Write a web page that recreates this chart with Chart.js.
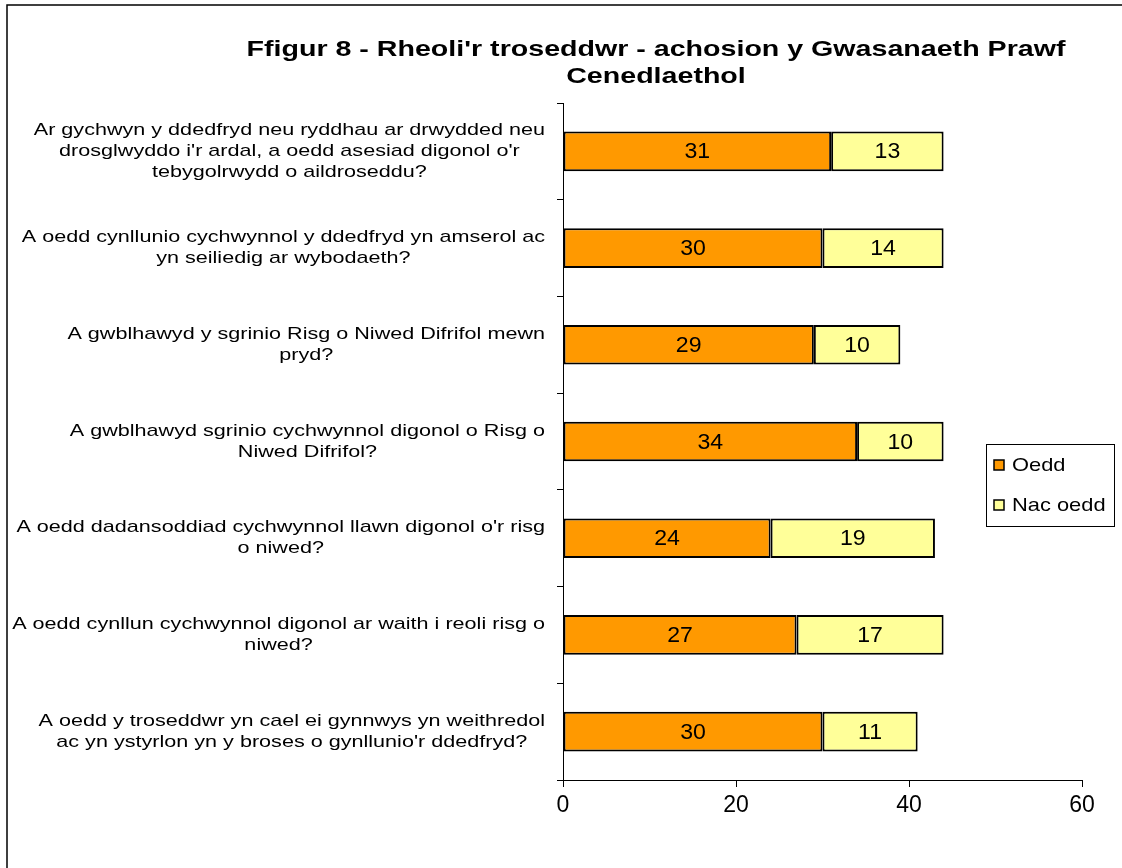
<!DOCTYPE html>
<html>
<head>
<meta charset="utf-8">
<script src="https://cdn.jsdelivr.net/npm/chart.js@4"></script>
<style>
    html, body { margin: 0; padding: 0; background: #fff; }
    #wrap { width: 1122px; height: 868px; position: relative; }
</style>
</head>
<body>
<div id="wrap"><canvas id="barChart"></canvas></div>
<script>
    // Data
    const categories = [
        ["Ar gychwyn y ddedfryd neu ryddhau ar drwydded neu", "drosglwyddo i'r ardal, a oedd asesiad digonol o'r", "tebygolrwydd o aildroseddu?"],
        ["A oedd cynllunio cychwynnol y ddedfryd yn amserol ac", "yn seiliedig ar wybodaeth?"],
        ["A gwblhawyd y sgrinio Risg o Niwed Difrifol mewn", "pryd?"],
        ["A gwblhawyd sgrinio cychwynnol digonol o Risg o", "Niwed Difrifol?"],
        ["A oedd dadansoddiad cychwynnol llawn digonol o'r risg", "o niwed?"],
        ["A oedd cynllun cychwynnol digonol ar waith i reoli risg o", "niwed?"],
        ["A oedd y troseddwr yn cael ei gynnwys yn weithredol", "ac yn ystyrlon yn y broses o gynllunio'r ddedfryd?"]
    ];
    const oedd = [31, 30, 29, 34, 24, 27, 30];
    const nacOedd = [13, 14, 10, 10, 19, 17, 11];
    const seriesNames = ['Oedd', 'Nac oedd'];
    const titleLines = ["Ffigur 8 - Rheoli'r troseddwr - achosion y Gwasanaeth Prawf", "Cenedlaethol"];

    const FONT = '"Liberation Sans", Arial, sans-serif';

    // the original text is drawn wide, so stretch it horizontally
    function wideText(c, s, x, y, sx) {
        c.save();
        c.translate(x, y);
        c.scale(sx, 1);
        c.fillText(s, 0, 0);
        c.restore();
    }

    // frame, title, category labels, value labels and legend
    const extras = {
        id: 'extras',
        beforeDraw(chart) {
            const c = chart.ctx;
            c.save();
            c.fillStyle = '#fff';
            c.fillRect(0, 0, chart.width, chart.height);
            c.strokeStyle = '#000';
            c.lineWidth = 1.5;
            c.beginPath();
            c.moveTo(7, chart.height + 5);
            c.lineTo(7, 5);
            c.lineTo(chart.width + 5, 5);
            c.stroke();
            c.restore();
        },
        afterDraw(chart) {
            const c = chart.ctx;
            const yScale = chart.scales.y;
            c.save();
            c.fillStyle = '#000';
            c.textAlign = 'center';
            c.textBaseline = 'middle';

            // title
            c.font = 'bold 22px ' + FONT;
            wideText(c, titleLines[0], 656, 50, 1.3);
            wideText(c, titleLines[1], 656, 77, 1.3);

            // category labels: block right-aligned to axis, lines centred in block
            c.font = '17px ' + FONT;
            const lineH = 21, sxLab = 1.27;
            chart.data.labels.forEach((lab, i) => {
                const yc = yScale.getPixelForTick(i);
                const maxW = Math.max(...lab.map(s => c.measureText(s).width)) * sxLab;
                const cx = 545 - maxW / 2;
                lab.forEach((s, k) => {
                    wideText(c, s, cx, yc + (k - (lab.length - 1) / 2) * lineH, sxLab);
                });
            });

            // value labels
            c.font = '22px ' + FONT;
            chart.data.datasets.forEach((ds, di) => {
                const meta = chart.getDatasetMeta(di);
                meta.data.forEach((bar, i) => {
                    const p = bar.getProps(['x', 'y', 'base'], true);
                    wideText(c, String(ds.data[i]), (p.x + p.base) / 2, p.y + 1, 1.05);
                });
            });

            // legend
            c.strokeStyle = '#000';
            c.lineWidth = 1;
            c.strokeRect(986.5, 444.5, 128, 82);
            c.font = '19px ' + FONT;
            c.textAlign = 'left';
            const rows = [465, 505];
            chart.data.datasets.forEach((ds, di) => {
                const y = rows[di];
                c.fillStyle = ds.backgroundColor;
                c.fillRect(994, y - 5, 10, 10);
                c.lineWidth = 1.5;
                c.strokeRect(994, y - 5, 10, 10);
                c.fillStyle = '#000';
                wideText(c, ds.label, 1012, y + 1, 1.15);
            });
            c.restore();
        }
    };

    const ctx = document.getElementById('barChart').getContext('2d');
    const barChart = new Chart(ctx, {
        type: 'bar',
        data: {
            labels: categories,
            datasets: [{
                label: seriesNames[0],
                data: oedd,
                backgroundColor: '#FF9900',
                borderColor: '#000',
                borderWidth: 2,
                borderSkipped: false,
                barPercentage: 0.41,
                categoryPercentage: 1
            }, {
                label: seriesNames[1],
                data: nacOedd,
                backgroundColor: '#FFFF99',
                borderColor: '#000',
                borderWidth: 2,
                borderSkipped: false,
                barPercentage: 0.41,
                categoryPercentage: 1
            }]
        },
        options: {
            indexAxis: 'y',
            responsive: true,
            maintainAspectRatio: false,
            animation: false,
            layout: { padding: { top: 103, right: 40, left: 0, bottom: 0 } },
            plugins: {
                legend: { display: false },
                title: { display: false },
                tooltip: { enabled: false }
            },
            scales: {
                x: {
                    stacked: true,
                    min: 0,
                    max: 60,
                    ticks: { stepSize: 20, color: '#000', font: { family: FONT, size: 23 }, padding: 5 },
                    grid: { drawOnChartArea: false, drawTicks: true, tickLength: 7, color: '#000' },
                    border: { color: '#000', width: 1 },
                    afterFit(scale) { scale.height = 88; }
                },
                y: {
                    stacked: true,
                    ticks: { display: false },
                    grid: { drawOnChartArea: false, drawTicks: true, tickLength: 6, color: '#000', offset: true },
                    border: { color: '#000', width: 1 },
                    afterFit(scale) { scale.width = 563; }
                }
            }
        },
        plugins: [extras]
    });
</script>
</body>
</html>
